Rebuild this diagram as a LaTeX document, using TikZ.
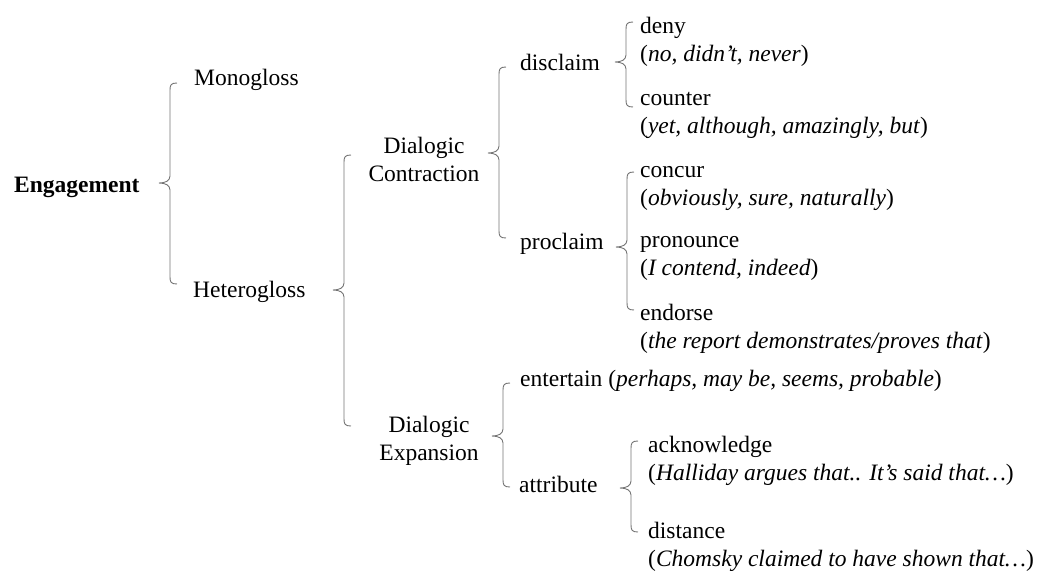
\documentclass[tikz,border=0pt]{standalone}
\usepackage{fontspec}
\setmainfont{Liberation Serif}
\newcommand\twol[2]{\vtop{\hbox{#1}\hbox{#2}}}
\newcommand\twoc[2]{\vtop{\halign{\hfil##\hfil\cr #1\cr #2\cr}}}
% curly brace: vertical x, top y, tip y, bottom y (y grows downward)
\newcommand\curly[4]{%
  \draw[brc] (#1+7,#2) .. controls (#1+1,#2) and (#1,#2+2) .. (#1,#2+7)
    -- (#1,#3-7) .. controls (#1,#3-2) and (#1-5,#3) .. (#1-11,#3)
    .. controls (#1-5,#3) and (#1,#3+2) .. (#1,#3+7)
    -- (#1,#4-7) .. controls (#1,#4-2) and (#1+1,#4) .. (#1+7,#4);}
\begin{document}
\begin{tikzpicture}[x=1pt,y=-1pt,
  lbl/.style={inner sep=0pt, anchor=base west, font=\fontsize{23.5}{28.5}\selectfont},
  clbl/.style={lbl, anchor=base},
  brc/.style={draw=black!55, line width=0.9pt}]
\useasboundingbox (0,0) rectangle (1040,570);
% level 0/1
\node[lbl] (eng) at (14,192) {\textbf{Engagement}};
\node[lbl] (mono) at (194,85) {Monogloss};
\node[lbl] (hetero) at (193,297) {Heterogloss};
% level 2
\node[clbl] (contr) at (424,153) {\twoc{Dialogic}{Contraction}};
\node[clbl] (expan) at (429,432) {\twoc{Dialogic}{Expansion}};
% level 3
\node[lbl] (discl) at (520,70) {disclaim};
\node[lbl] (procl) at (520,249) {proclaim};
\node[lbl] (enter) at (520,386) {entertain (\textit{perhaps, may be, seems, probable})};
\node[lbl] (attr) at (519,492) {attribute};
% level 4
\node[lbl] (deny) at (640,33) {\twol{deny}{(\textit{no, didn’t, never})}};
\node[lbl] (counter) at (640,105) {\twol{counter}{(\textit{yet, although, amazingly, but})}};
\node[lbl] (concur) at (640,177) {\twol{concur}{(\textit{obviously, sure, naturally})}};
\node[lbl] (pron) at (640,247) {\twol{pronounce}{(\textit{I contend, indeed})}};
\node[lbl] (endorse) at (640,320) {\twol{endorse}{(\textit{the report demonstrates/proves that})}};
\node[lbl] (ack) at (648,452) {\twol{acknowledge}{(\textit{Halliday argues that.. It’s said that…})}};
\node[lbl] (dist) at (648,538) {\twol{distance}{(\textit{Chomsky claimed to have shown that…})}};
% braces
\curly{170}{83}{183}{284}
\curly{344}{155}{290}{426}
\curly{499}{67}{153}{238}
\curly{626}{22}{62}{107}
\curly{627}{172}{247}{310}
\curly{503}{383}{436}{487}
\curly{631}{441}{488}{532}
\end{tikzpicture}
\end{document}
